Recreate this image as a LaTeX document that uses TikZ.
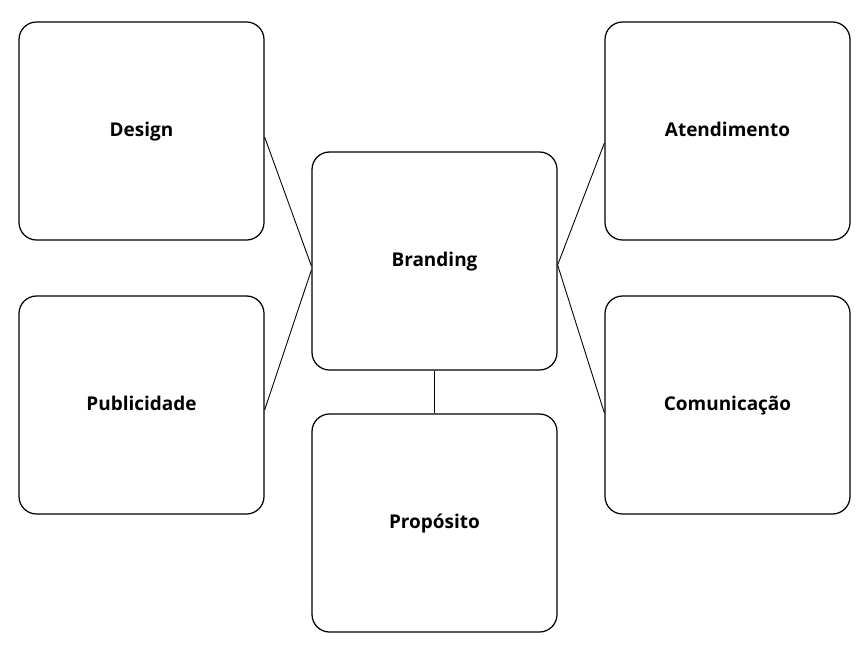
\documentclass[tikz,border=0pt]{standalone}
\usepackage{fontspec}
\setmainfont{Open Sans}
\usepackage{tikz}
\usetikzlibrary{calc}
\definecolor{myInk}{HTML}{000000}

\begin{document}
\begin{tikzpicture}[
  card/.style={draw=myInk, line width=0.7pt, rounded corners=10pt,
               minimum width=4.9cm, minimum height=4.36cm,
               text height=0.72em, text depth=0.04em,
               font=\fontsize{10.8}{13}\selectfont\bfseries, text=myInk, align=center},
  link/.style={draw=myInk, line width=0.5pt}
]
\useasboundingbox (0,0) rectangle (17.3,-13.02);
\node[card] (brd) at (8.69,-5.22) {Branding};
\node[card] (dsg) at (2.83,-2.62) {Design};
\node[card] (pub) at (2.83,-8.10) {Publicidade};
\node[card] (ate) at (14.55,-2.62) {Atendimento};
\node[card] (com) at (14.55,-8.10) {Comunicação};
\node[card] (prp) at (8.69,-10.46) {Propósito};
\draw[link] ([yshift=-0.12cm]dsg.east) -- ([yshift=-0.10cm]brd.west);
\draw[link] ([yshift=-0.10cm]pub.east) -- ([yshift=-0.18cm]brd.west);
\draw[link] ([yshift=-0.08cm]brd.east) -- ([yshift=-0.24cm]ate.west);
\draw[link] ([yshift=-0.08cm]brd.east) -- ([yshift=-0.16cm]com.west);
\draw[link] (brd.south) -- (prp.north);
\end{tikzpicture}
\end{document}
